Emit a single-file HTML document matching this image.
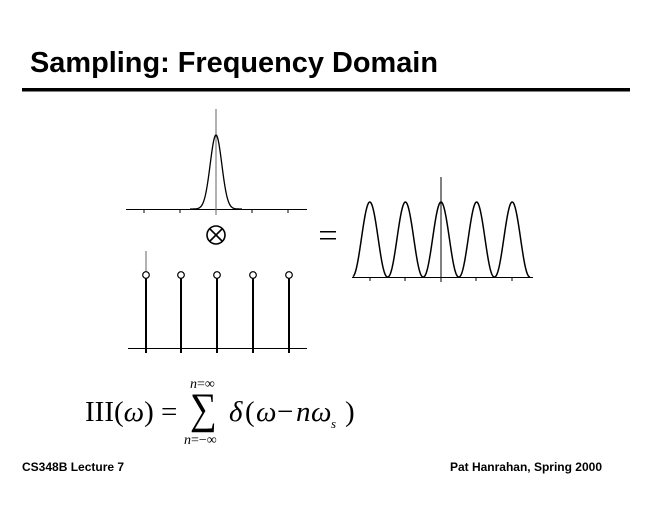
<!DOCTYPE html>
<html><head><meta charset="utf-8"><style>
html,body{margin:0;padding:0;background:#fff;}
svg{display:block;}
</style></head><body>
<svg id="s" width="660" height="510" xmlns="http://www.w3.org/2000/svg">
<text x="30" y="72" font-family="Liberation Sans, sans-serif" font-weight="bold" font-size="29" textLength="408" lengthAdjust="spacingAndGlyphs">Sampling: Frequency Domain</text>
<rect x="22" y="88" width="608" height="3.5" fill="#000"/>
<line x1="126" y1="209.5" x2="307" y2="209.5" stroke="#000" stroke-width="1"/>
<line x1="216" y1="109" x2="216" y2="215" stroke="#666" stroke-width="1"/>
<g stroke="#000" stroke-width="1">
<line x1="144" y1="209" x2="144" y2="213"/><line x1="180" y1="209" x2="180" y2="213"/>
<line x1="252" y1="209" x2="252" y2="213"/><line x1="288" y1="209" x2="288" y2="213"/>
</g>
<path id="g1" fill="none" stroke="#000" stroke-width="1.3"/>
<circle cx="216" cy="235" r="9" fill="none" stroke="#000" stroke-width="1.6"/>
<line x1="210" y1="229" x2="222" y2="241" stroke="#000" stroke-width="1.6"/>
<line x1="222" y1="229" x2="210" y2="241" stroke="#000" stroke-width="1.6"/>
<rect x="320" y="231" width="16" height="1.5" fill="#000"/>
<rect x="320" y="238" width="16" height="1.5" fill="#000"/>
<line x1="128" y1="348.5" x2="307" y2="348.5" stroke="#000" stroke-width="1"/>
<line x1="146" y1="251" x2="146" y2="272" stroke="#666" stroke-width="1"/>
<g id="comb"></g>
<line x1="352" y1="277.5" x2="533" y2="277.5" stroke="#000" stroke-width="1"/>
<line x1="441" y1="177" x2="441" y2="282" stroke="#000" stroke-width="1"/>
<g stroke="#000" stroke-width="1">
<line x1="370" y1="277" x2="370" y2="281"/><line x1="405" y1="277" x2="405" y2="281"/>
<line x1="476" y1="277" x2="476" y2="281"/><line x1="512" y1="277" x2="512" y2="281"/>
</g>
<path id="g2" fill="none" stroke="#000" stroke-width="1.5"/>
<g font-family="Liberation Serif, serif" fill="#000">
<text x="85" y="421" font-size="29">III(<tspan font-style="italic">ω</tspan>) =</text>
<text transform="translate(190,423) scale(1.25,1.45)" font-size="30">∑</text>
<text x="190" y="388" font-size="14"><tspan font-style="italic">n</tspan>=∞</text>
<text x="184" y="444" font-size="14"><tspan font-style="italic">n</tspan>=−∞</text>
<text x="229" y="421" font-size="29" font-style="italic">δ</text>
<text x="245" y="421" font-size="29">(</text>
<text x="256" y="421" font-size="29" font-style="italic">ω</text>
<text x="277" y="421" font-size="29">−</text>
<text x="296" y="421" font-size="29" font-style="italic">n</text>
<text x="311" y="421" font-size="29" font-style="italic">ω</text>
<text x="331" y="428" font-size="13" font-style="italic">s</text>
<text x="345" y="421" font-size="29">)</text>
</g>
<text x="22" y="471" font-family="Liberation Sans, sans-serif" font-weight="bold" font-size="12">CS348B Lecture 7</text>
<text x="602" y="471" text-anchor="end" font-family="Liberation Sans, sans-serif" font-weight="bold" font-size="12">Pat Hanrahan, Spring 2000</text>
</svg>
<script>
var d="";
for(var x=190;x<=242;x+=0.5){var y=209-74*Math.exp(-Math.pow((x-216)/5.8,2)/2);d+=(d?"L":"M")+x+","+y.toFixed(2);}
document.getElementById("g1").setAttribute("d",d);
d="";var P=35.6;
for(var x=353;x<=530;x+=0.5){var c=(1+Math.cos(2*Math.PI*(x-441)/P))/2;var y=277-75*Math.pow(c,1.1);d+=(d?"L":"M")+x+","+y.toFixed(2);}
document.getElementById("g2").setAttribute("d",d);
var g=document.getElementById("comb"),h="";
[146,181,217,253,289].forEach(function(x){h+='<line x1="'+x+'" y1="278" x2="'+x+'" y2="353" stroke="#000" stroke-width="2"/><circle cx="'+x+'" cy="275" r="3.3" fill="#fff" stroke="#000" stroke-width="1.2"/>';});
g.innerHTML=h;
</script>
</body></html>
